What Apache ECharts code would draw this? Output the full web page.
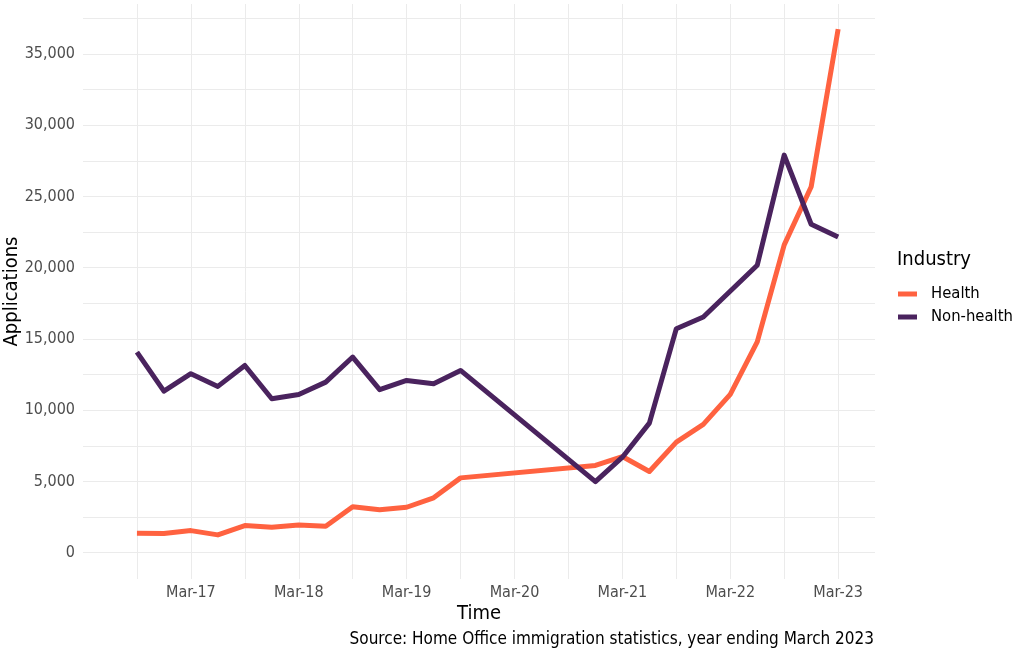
<!DOCTYPE html>
<html>
<head>
<meta charset="utf-8">
<script src="https://cdn.jsdelivr.net/npm/echarts@6/dist/echarts.min.js"></script>
<style>
  html, body { margin: 0; padding: 0; background: #fff; }
  #chart { width: 1025px; height: 658px; }
</style>
</head>
<body>
<div id="chart"></div>
<script>
// quarter ends with data (Oct-19 to Sep-20 missing in source)
var quarters = ["Sep-16", "Dec-16", "Mar-17", "Jun-17", "Sep-17", "Dec-17", "Mar-18", "Jun-18",
  "Sep-18", "Dec-18", "Mar-19", "Jun-19", "Sep-19", "Dec-20", "Mar-21", "Jun-21", "Sep-21",
  "Dec-21", "Mar-22", "Jun-22", "Sep-22", "Dec-22", "Mar-23"];
var health = [1360, 1350, 1550, 1250, 1900, 1780, 1950, 1850, 3230, 3020, 3190, 3850, 5250,
  6120, 6750, 5700, 7760, 9000, 11110, 14790, 21600, 25680, 36740];
var nonHealth = [14080, 11340, 12560, 11670, 13140, 10800, 11100, 11970, 13730, 11440, 12090,
  11860, 12790, 4990, 6700, 9090, 15720, 16540, null, 20170, 27900, 23050, 22160];

var xTickLabels = ["Mar-17", "Mar-18", "Mar-19", "Mar-20", "Mar-21", "Mar-22", "Mar-23"];
var xGridLabels = ["Sep-16", "Mar-17", "Sep-17", "Mar-18", "Sep-18", "Mar-19", "Sep-19", "Mar-20",
  "Sep-20", "Mar-21", "Sep-21", "Mar-22", "Sep-22", "Mar-23"];
var yTicks = [0, 5000, 10000, 15000, 20000, 25000, 30000, 35000];
var yGrid = [0, 2500, 5000, 7500, 10000, 12500, 15000, 17500, 20000, 22500, 25000, 27500,
  30000, 32500, 35000, 37500];

var MON = { Mar: 3, Jun: 6, Sep: 9, Dec: 12 };
// months since Mar-16
function monthIdx(q) {
  var p = q.split("-");
  return (parseInt(p[1], 10) - 16) * 12 + MON[p[0]] - 3;
}
function labelOf(v) {
  var yy = 16 + Math.floor(v / 12);
  return "Mar-" + yy;
}

var FONT = "DejaVu Sans Condensed, DejaVu Sans, sans-serif";
var gridColor = "#ebebeb";

var chart = echarts.init(document.getElementById("chart"), null, { renderer: "canvas" });

var option = {
  animation: false,
  backgroundColor: "#ffffff",
  textStyle: { fontFamily: FONT },
  color: ["#ff6240", "#4a235e"],
  grid: { left: 83, right: 150, top: 4, bottom: 79, containLabel: false, outerBoundsMode: "none" },
  title: [
    {
      text: "Industry",
      left: 892, top: 245,
      textStyle: { fontFamily: FONT, fontSize: 20, fontWeight: "normal", color: "#000" }
    },
    {
      text: "Source: Home Office immigration statistics, year ending March 2023",
      right: 146, top: 626,
      textStyle: { fontFamily: FONT, fontSize: 17, fontWeight: "normal", color: "#000" }
    }
  ],
  legend: {
    orient: "vertical",
    left: 893, top: 280,
    icon: "rect",
    itemWidth: 19, itemHeight: 5,
    itemGap: 5,
    data: ["Health", "Non-health"],
    textStyle: { fontFamily: FONT, fontSize: 16.5, color: "#000", lineHeight: 18, padding: [0, 0, 0, 9] }
  },
  xAxis: {
    type: "value",
    min: 0, max: 88.1,
    name: "Time",
    nameLocation: "middle",
    nameGap: 25,
    nameMoveOverlap: false,
    nameTextStyle: { fontFamily: FONT, fontSize: 20, color: "#000" },
    axisLine: { show: false },
    axisTick: { show: false, customValues: xGridLabels.map(monthIdx) },
    axisLabel: {
      customValues: xTickLabels.map(monthIdx),
      formatter: labelOf,
      margin: 6,
      fontFamily: FONT, fontSize: 16, color: "#4d4d4d"
    },
    splitLine: { show: true, lineStyle: { color: gridColor, width: 1 } }
  },
  yAxis: {
    type: "value",
    min: -1846, max: 38505,
    name: "Applications",
    nameLocation: "middle",
    nameGap: 61,
    nameMoveOverlap: false,
    nameTextStyle: { fontFamily: FONT, fontSize: 20, color: "#000" },
    axisLine: { show: false },
    axisTick: { show: false, customValues: yGrid },
    axisLabel: {
      customValues: yTicks,
      formatter: function (v) { return v.toLocaleString("en-US"); },
      margin: 8,
      fontFamily: FONT, fontSize: 16, color: "#4d4d4d"
    },
    splitLine: { show: true, lineStyle: { color: gridColor, width: 1 } }
  },
  series: [
    {
      name: "Health",
      type: "line",
      data: quarters.map(function (q, i) { return [monthIdx(q), health[i]]; }),
      showSymbol: false,
      connectNulls: true,
      lineStyle: { width: 5, cap: "butt", join: "round" }
    },
    {
      name: "Non-health",
      type: "line",
      data: quarters.map(function (q, i) { return [monthIdx(q), nonHealth[i]]; }),
      showSymbol: false,
      connectNulls: true,
      lineStyle: { width: 5, cap: "butt", join: "round" }
    }
  ]
};
chart.setOption(option);
</script>
</body>
</html>
